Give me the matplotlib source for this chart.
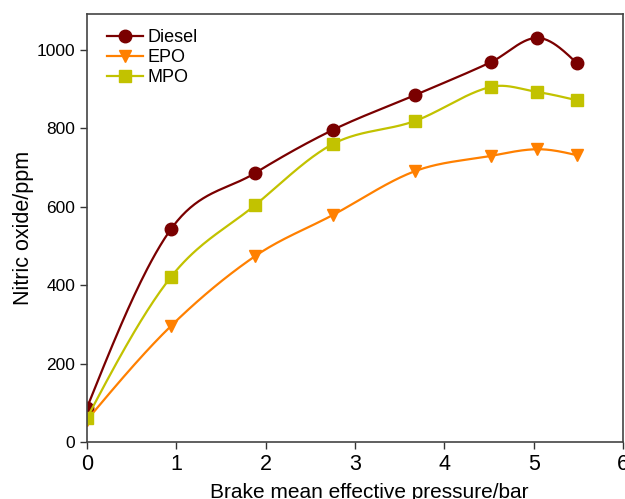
import numpy as np
import matplotlib.pyplot as plt

plt.rcParams['font.family'] = ['Liberation Sans', 'DejaVu Sans']

bmep = [0, 0.94, 1.88, 2.75, 3.67, 4.52, 5.04, 5.48]
diesel = [87, 543, 686, 796, 885, 969, 1031, 967]
epo = [56, 296, 474, 579, 691, 730, 747, 732]
mpo = [61, 421, 604, 760, 819, 906, 893, 872]


def smooth(x, y, n=40):
    # cubic Hermite: Catmull-Rom slopes inside, natural ends
    x = np.asarray(x, float)
    y = np.asarray(y, float)
    h = np.diff(x)
    d = np.diff(y) / h
    m = np.zeros(len(x))
    m[1:-1] = (y[2:] - y[:-2]) / (x[2:] - x[:-2])
    m[0] = (3 * d[0] - m[1]) / 2
    m[-1] = (3 * d[-1] - m[-2]) / 2
    xs, ys = [], []
    for i in range(len(x) - 1):
        t = np.linspace(0, 1, n)
        h00 = 2 * t ** 3 - 3 * t ** 2 + 1
        h10 = t ** 3 - 2 * t ** 2 + t
        h01 = -2 * t ** 3 + 3 * t ** 2
        h11 = t ** 3 - t ** 2
        xs.extend(x[i] + t * h[i])
        ys.extend(h00 * y[i] + h10 * h[i] * m[i] + h01 * y[i + 1] + h11 * h[i] * m[i + 1])
    return xs, ys


fig = plt.figure(figsize=(6.25, 4.99), dpi=100)
ax = fig.add_axes([0.139, 0.114, 0.858, 0.858])

series = [('Diesel', diesel, '#7a0000', 'o'),
          ('EPO', epo, '#ff8000', 'v'),
          ('MPO', mpo, '#c2c200', 's')]
for name, vals, col, mk in series:
    sx, sy = smooth(bmep, vals)
    ax.plot(sx, sy, color=col, lw=1.6)
    ax.plot(bmep, vals, linestyle='none', marker=mk, color=col, ms=9)
    ax.plot([], [], color=col, lw=1.6, marker=mk, ms=9, label=name)

ax.set_xlim(0, 6)
ax.set_ylim(0, 1092)
ax.set_xticks(range(7))
ax.set_yticks([0, 200, 400, 600, 800, 1000])
ax.tick_params(axis='x', labelsize=15.5, direction='out', length=5, width=1, colors='#333333', labelcolor='black')
ax.tick_params(axis='y', labelsize=12.5, direction='out', length=5, width=1, colors='#333333', labelcolor='black')
for s in ax.spines.values():
    s.set_color('#444444')
    s.set_linewidth(1.2)

ax.set_xlabel('Brake mean effective pressure/bar', fontsize=15)
ax.xaxis.set_label_coords(0.527, -0.095)
ax.set_ylabel('Nitric oxide/ppm', fontsize=15.5, labelpad=2)
ax.legend(loc='upper left', frameon=False, fontsize=13, handlelength=2.0,
          borderaxespad=0.0, labelspacing=0.17, handletextpad=0.25,
          bbox_to_anchor=(0.024, 0.982))

fig.savefig('out.png', dpi=100)
